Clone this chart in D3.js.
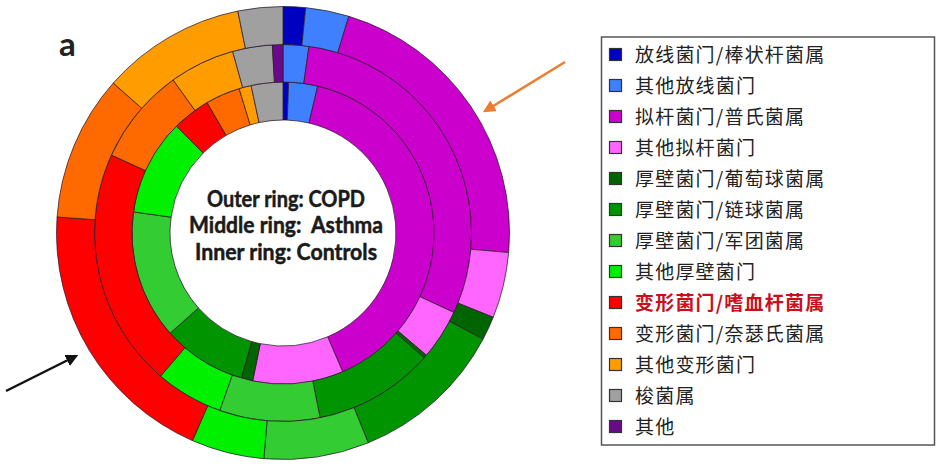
<!DOCTYPE html>
<html>
<head>
<meta charset="utf-8">
<script src="https://cdn.jsdelivr.net/npm/d3@7"></script>
<style>
  body { margin: 0; background: #fff; }
  svg { display: block; }
</style>
</head>
<body>
<div id="chart"></div>
<script>
var width = 944;
var height = 467;

// taxa, clockwise from 12 o'clock
var categories = [
    "放线菌门/棒状杆菌属", "其他放线菌门", "拟杆菌门/普氏菌属", "其他拟杆菌门",
    "厚壁菌门/葡萄球菌属", "厚壁菌门/链球菌属", "厚壁菌门/军团菌属", "其他厚壁菌门",
    "变形菌门/嗜血杆菌属", "变形菌门/奈瑟氏菌属", "其他变形菌门", "梭菌属", "其他"
];
var colors = [
    "#0000c0", "#3f80ff", "#cc00cc", "#ff66ff",
    "#006400", "#009400", "#33cc33", "#00f000",
    "#ff0000", "#ff6a00", "#ff9c00", "#a0a0a0", "#6a0a8a"
];
// relative abundance (%)
var copd     = [1.6, 3.1, 21.7, 4.7, 1.7, 11.1, 7.5, 5.2, 19.6, 10.4, 10.3, 3.2, 0];
var asthma   = [0, 2.2, 29.7, 4.3, 0.3, 10.3, 8.6, 5.8, 20.5, 8.3, 5.6, 3.4, 0.9];
var controls = [0.6, 3.1, 39.9, 9.7, 1.25, 9.0, 13.8, 10.3, 4.1, 3.7, 1.3, 3.4, 0];

var ringLabels = ["Outer ring: COPD", "Middle ring:  Asthma", "Inner ring: Controls"];
var highlight = "变形菌门/嗜血杆菌属";

var cx = 283, cy = 233;

var svg = d3.select("#chart")
    .append("svg")
    .attr("width", width)
    .attr("height", height);

svg.append("rect")
    .attr("width", width)
    .attr("height", height)
    .attr("fill", "#fff");

var pie = d3.pie().sort(null).value(function(d) { return d; });

var rings = [
    {data: controls, r0: 113, r1: 151},
    {data: asthma,   r0: 151, r1: 188.5},
    {data: copd,     r0: 188.5, r1: 226.5}
];

var g = svg.append("g")
    .attr("transform", "translate(" + cx + "," + cy + ")");

rings.forEach(function(ring) {
    var arc = d3.arc().innerRadius(ring.r0).outerRadius(ring.r1);
    g.append("g")
        .selectAll("path")
        .data(pie(ring.data))
        .enter()
        .append("path")
        .attr("d", arc)
        .attr("fill", function(d, i) { return colors[i]; })
        .attr("stroke", function(d) { return d.value > 0 ? "#2a1a2a" : "none"; })
        .attr("stroke-opacity", 0.75)
        .attr("stroke-width", 1);
});

// centre labels
g.selectAll("text.ring")
    .data(ringLabels)
    .enter()
    .append("text")
    .attr("class", "ring")
    .attr("x", 3)
    .attr("y", function(d, i) { return [-26, 0, 27][i]; })
    .attr("text-anchor", "middle")
    .attr("textLength", function(d, i) { return [158, 194, 182][i]; })
    .attr("lengthAdjust", "spacingAndGlyphs")
    .style("white-space", "pre")
    .style("font-family", "Lato, 'Open Sans', sans-serif")
    .style("font-weight", "bold")
    .style("font-size", "22px")
    .style("fill", "#1a1a1a")
    .style("stroke", "#1a1a1a")
    .style("stroke-width", 0.5)
    .text(function(d) { return d; });

// panel letter
svg.append("text")
    .attr("x", 59)
    .attr("y", 56)
    .style("font-family", "Lato, sans-serif")
    .style("font-weight", "bold")
    .style("font-size", "33px")
    .style("fill", "#222")
    .text("a");

// arrows
var defs = svg.append("defs");
function marker(id, col) {
    defs.append("marker")
        .attr("id", id)
        .attr("viewBox", "0 0 10 10")
        .attr("refX", 8)
        .attr("refY", 5)
        .attr("markerWidth", 5)
        .attr("markerHeight", 5)
        .attr("orient", "auto")
        .append("path")
        .attr("d", "M0,0 L10,5 L0,10 z")
        .attr("fill", col);
}
marker("headOrange", "#ed7d31");
marker("headBlack", "#111");

svg.append("line")
    .attr("x1", 565).attr("y1", 62)
    .attr("x2", 485).attr("y2", 111)
    .attr("stroke", "#ed7d31")
    .attr("stroke-width", 2.5)
    .attr("marker-end", "url(#headOrange)");

svg.append("line")
    .attr("x1", 6).attr("y1", 391)
    .attr("x2", 76).attr("y2", 356)
    .attr("stroke", "#111")
    .attr("stroke-width", 2.5)
    .attr("marker-end", "url(#headBlack)");

// legend
var legend = svg.append("g");
legend.append("rect")
    .attr("x", 601.5)
    .attr("y", 37)
    .attr("width", 333)
    .attr("height", 408)
    .attr("fill", "#fff")
    .attr("stroke", "#555")
    .attr("stroke-width", 1.5);

var rowY = d3.scalePoint()
    .domain(categories)
    .range([55, 427]);

var items = legend.selectAll("g.item")
    .data(categories)
    .enter()
    .append("g")
    .attr("class", "item")
    .attr("transform", function(d) { return "translate(0," + rowY(d) + ")"; });

items.append("rect")
    .attr("x", 609.5)
    .attr("y", -6.5)
    .attr("width", 12)
    .attr("height", 12)
    .attr("fill", function(d, i) { return colors[i]; })
    .attr("stroke", "#333")
    .attr("stroke-width", 1.2);

items.append("text")
    .attr("x", 635)
    .attr("y", 7)
    .style("font-family", "'Noto Sans CJK SC', sans-serif")
    .style("font-size", "19px")
    .style("letter-spacing", "1.2px")
    .style("font-weight", function(d) { return d == highlight ? "bold" : "normal"; })
    .style("fill", function(d) { return d == highlight ? "#c8101a" : "#222"; })
    .text(function(d) { return d; });
</script>
</body>
</html>
